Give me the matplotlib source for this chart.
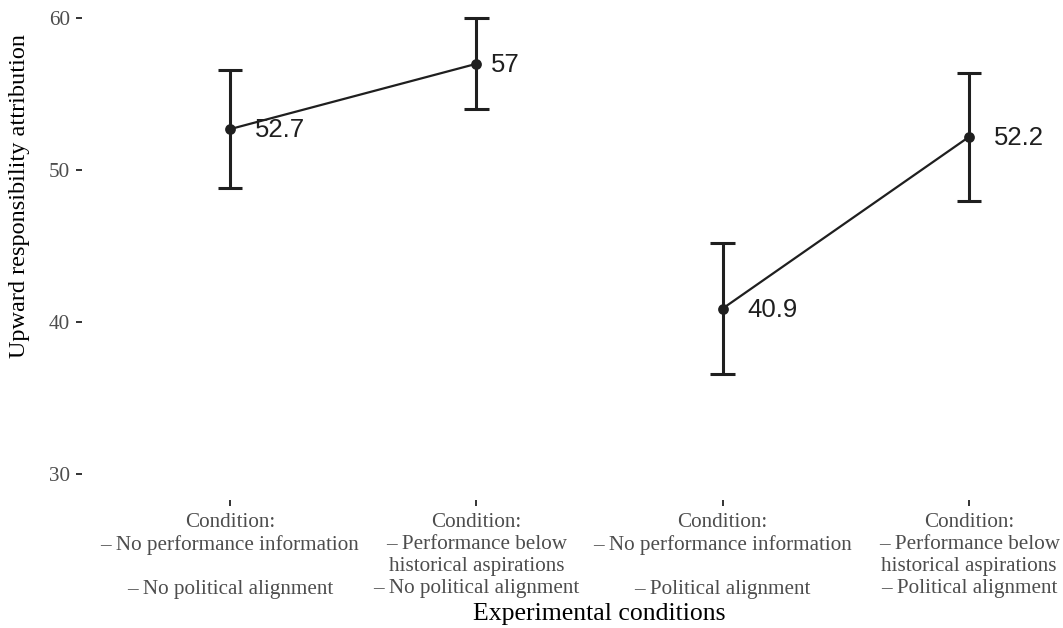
import matplotlib
matplotlib.use("Agg")
import matplotlib.pyplot as plt
from matplotlib.transforms import offset_copy

# Condition means and half-widths of their error bars
conditions = [
    "Condition:\n– No performance information\n\n– No political alignment",
    "Condition:\n– Performance below\nhistorical aspirations\n– No political alignment",
    "Condition:\n– No performance information\n\n– Political alignment",
    "Condition:\n– Performance below\nhistorical aspirations\n– Political alignment",
]
means = [52.7, 57.0, 40.9, 52.2]
errors = [3.9, 3.0, 4.3, 4.2]
groups = [0, 0, 1, 1]
y_ticks = [30, 40, 50, 60]

W, H = 1063, 628
fig = plt.figure(figsize=(W / 100, H / 100), dpi=100)
left, right, bottom, top = 82, 1117, 500, 0
ax = fig.add_axes([left / W, 1 - bottom / H, (right - left) / W, (bottom - top) / H])

ink = "#1f1f1f"
xs = list(range(1, len(means) + 1))

# lines connect conditions within each alignment group
for g in sorted(set(groups)):
    gx = [x for x, gg in zip(xs, groups) if gg == g]
    gy = [m for m, gg in zip(means, groups) if gg == g]
    ax.plot(gx, gy, color=ink, lw=1.6, zorder=2)

ax.errorbar(xs, means, yerr=errors, fmt="none", ecolor=ink, elinewidth=2.2,
            capsize=0, zorder=3)
for x, m, e in zip(xs, means, errors):
    for yy in (m - e, m + e):
        ax.plot([x - 0.05, x + 0.05], [yy, yy], color=ink, lw=2.2,
                solid_capstyle="butt", zorder=3)
ax.scatter(xs, means, s=60, color=ink, zorder=4, linewidths=0)

ax.set_xlim(0.4, 4.6)
ax.set_ylim(28.3, 61.2)
ax.set_xticks(xs)
ax.set_xticklabels(conditions, fontfamily="Liberation Serif", fontsize=15.2,
                   color="#4d4d4d", linespacing=1.2, va="top")
ax.set_yticks(y_ticks)
ax.set_yticklabels([str(t) for t in y_ticks], fontfamily="Liberation Serif",
                   fontsize=15.2, color="#4d4d4d")
ax.tick_params(axis="both", length=4.5, width=1.4, color="#333333")
ax.tick_params(axis="x", pad=5)
ax.tick_params(axis="y", pad=4)
for s in ax.spines.values():
    s.set_visible(False)

ax.set_xlabel("Experimental conditions", fontfamily="Liberation Serif",
              fontsize=18.5, color="black", labelpad=3)
fig.text(20 / W, 1 - 196 / H, "Upward responsibility attribution",
         rotation=90, ha="center", va="center", fontfamily="Liberation Serif",
         fontsize=17.5, color="black")

# value labels, shifted right by half their own width
fig.canvas.draw()
renderer = fig.canvas.get_renderer()
for x, m in zip(xs, means):
    lbl = f"{m:g}"
    t = ax.text(x, m, lbl, fontfamily="Liberation Sans", fontsize=18.5,
                color=ink, ha="left", va="center", zorder=5)
    w = t.get_window_extent(renderer).width
    t.set_transform(offset_copy(ax.transData, fig=fig, x=0.5 * w,
                                y=-1, units="dots"))

fig.savefig("out.png", dpi=100)
